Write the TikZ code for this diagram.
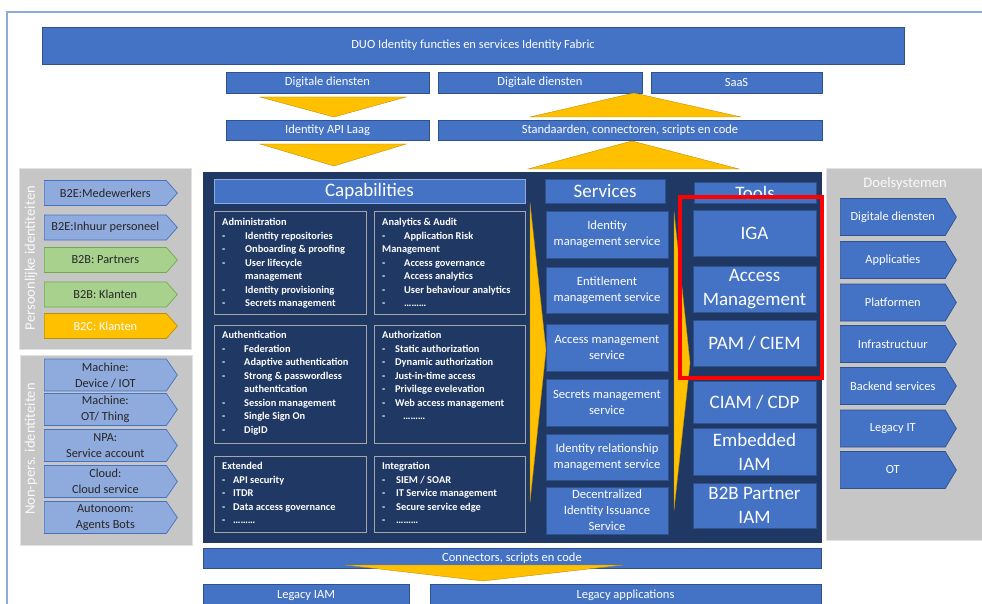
\documentclass[tikz,border=0pt]{standalone}
\usepackage{fontspec}
\setmainfont{Carlito}
\usetikzlibrary{shapes.symbols}
\definecolor{fabric}{HTML}{4472C4}
\definecolor{fabricedge}{HTML}{2F528F}
\definecolor{navy}{HTML}{203864}
\definecolor{lightblue}{HTML}{8FAADC}
\definecolor{softgreen}{HTML}{A9D18E}
\definecolor{darkgreen}{HTML}{70AD47}
\definecolor{amber}{HTML}{FFC000}
\definecolor{amberedge}{HTML}{BF9000}
\definecolor{panelgray}{HTML}{C6C6C6}
\definecolor{paneledge}{HTML}{E2E2E2}
\definecolor{capedge}{HTML}{A6A6A6}
\newcommand{\capitem}[1]{\makebox[#1pt][l]{-}}
\begin{document}
\begin{tikzpicture}[x=1pt,y=-1pt,
	box/.style={anchor=north west,inner sep=0pt,outer sep=0pt,fill=fabric,draw=fabricedge,line width=0.6pt,text=white,align=center,font=\fontsize{12.5}{14}\selectfont},
	bigbox/.style={box,font=\fontsize{19}{24}\selectfont},
	srvbox/.style={box,font=\fontsize{12.6}{16}\selectfont},
	capbox/.style={anchor=north west,inner sep=0pt,fill=navy,draw=capedge,line width=1.1pt},
	captext/.style={anchor=north west,inner sep=0pt,text=white,align=left,font=\bfseries\fontsize{10.4}{13.5}\selectfont},
	panel/.style={anchor=north west,inner sep=0pt,fill=panelgray,draw=paneledge,line width=1pt},
	panellabel/.style={text=white!95!gray,font=\fontsize{14.6}{16}\selectfont},
	idarrow/.style={signal,signal to=east,anchor=west,inner sep=0pt,minimum width=133pt,line width=0.7pt,align=center,text=black!85,font=\fontsize{12.3}{16}\selectfont},
	person/.style={idarrow,fill=lightblue,draw=fabric,minimum height=25pt,signal pointer angle=97},
	partner/.style={idarrow,fill=softgreen,draw=darkgreen,minimum height=25pt,signal pointer angle=97},
	machine/.style={idarrow,fill=lightblue,draw=fabric,minimum height=32pt,signal pointer angle=111},
	target/.style={signal,signal to=east,anchor=west,inner sep=0pt,minimum width=116pt,minimum height=37pt,signal pointer angle=118,fill=fabric,draw=fabricedge,line width=0.7pt,text=white,font=\fontsize{12.4}{14}\selectfont},
	tri/.style={fill=amber,draw=amberedge,line width=0.4pt}]
	\useasboundingbox (0,0) rectangle (982,604);
	% slide frame
	\draw[lightblue,line width=1.5pt] (7,604) -- (7,12) -- (982,12);
	% top layers
	\node[box,minimum width=862pt,minimum height=37pt] (fabric) at (42,27) {DUO Identity functies en services Identity Fabric};
	\node[box,minimum width=203pt,minimum height=21pt] (dig1) at (226,72) {Digitale diensten};
	\node[box,minimum width=204pt,minimum height=21pt] (dig2) at (438,72) {Digitale diensten};
	\node[box,minimum width=171pt,minimum height=21pt] (saas) at (651,72) {SaaS};
	\node[box,minimum width=203pt,minimum height=20pt] (api) at (226,120) {Identity API Laag};
	\node[box,minimum width=384pt,minimum height=20pt] (std) at (438,120) {Standaarden, connectoren, scripts en code};
	% yellow arrows between the layers
	\filldraw[tri] (260,97) -- (406,97) -- (334,117) -- cycle;
	\filldraw[tri] (634,93) -- (741,117) -- (530,117) -- cycle;
	\filldraw[tri] (260,144) -- (406,144) -- (334,166) -- cycle;
	\filldraw[tri] (632,141) -- (739,169) -- (528,169) -- cycle;
	% personal identities
	\node[panel,minimum width=172pt,minimum height=181pt] (perspanel) at (19,168) {};
	\node[panellabel,rotate=90] (perslabel) at (31,258) {Persoonlijke identiteiten};
	\node[person] (b2emed) at (44,193) {B2E:Medewerkers};
	\node[person] (b2einh) at (44,227.5) {B2E:Inhuur personeel};
	\node[partner] (b2bpart) at (44,260) {B2B: Partners};
	\node[partner] (b2bkl) at (44,294.5) {B2B: Klanten};
	\node[idarrow,fill=amber,draw=amberedge,minimum height=25pt,signal pointer angle=97,text=white] (b2ckl) at (44,326) {B2C: Klanten};
	% non-personal identities
	\node[panel,minimum width=172pt,minimum height=190pt] (npspanel) at (20,355) {};
	\node[panellabel,rotate=90] (npslabel) at (31,449) {Non-pers. identiteiten};
	\node[machine] (iot) at (44,375) {Machine:\\Device / IOT};
	\node[machine] (thing) at (44,409.5) {Machine:\\OT/ Thing};
	\node[machine] (npa) at (44,445.5) {NPA:\\Service account};
	\node[machine] (cloud) at (44,481.5) {Cloud:\\Cloud service};
	\node[machine] (agents) at (44,517.5) {Autonoom:\\Agents Bots};
	% the identity fabric
	\node[anchor=north west,inner sep=0pt,fill=navy,minimum width=619pt,minimum height=371pt] (core) at (203,172) {};
	% capabilities
	\node[bigbox,draw=lightblue,minimum width=311pt,minimum height=24pt] (caphead) at (214,179) {Capabilities};
	\node[capbox,minimum width=152pt,minimum height=103pt] (admin) at (214,211) {};
	\node[captext] (admintxt) at ([shift={(8,7)}]admin.north west) {Administration\\
		\capitem{23}Identity repositories\\
		\capitem{23}Onboarding \& proofing\\
		\capitem{23}User lifecycle\\
		\hspace*{23pt}management\\
		\capitem{23}Identity provisioning\\
		\capitem{23}Secrets management};
	\node[capbox,minimum width=151pt,minimum height=103pt] (analytics) at (374,211) {};
	\node[captext] (analyticstxt) at ([shift={(8,7)}]analytics.north west) {Analytics \& Audit\\
		\capitem{22}Application Risk\\
		Management\\
		\capitem{22}Access governance\\
		\capitem{22}Access analytics\\
		\capitem{22}User behaviour analytics\\
		\capitem{22}………};
	\node[capbox,minimum width=152pt,minimum height=118pt] (authn) at (214,325) {};
	\node[captext] (authntxt) at ([shift={(8,6)}]authn.north west) {Authentication\\
		\capitem{22}Federation\\
		\capitem{22}Adaptive authentication\\
		\capitem{22}Strong \& passwordless\\
		\hspace*{22pt}authentication\\
		\capitem{22}Session management\\
		\capitem{22}Single Sign On\\
		\capitem{22}DigID};
	\node[capbox,minimum width=151pt,minimum height=118pt] (authz) at (374,325) {};
	\node[captext] (authztxt) at ([shift={(8,6)}]authz.north west) {Authorization\\
		\capitem{13}Static authorization\\
		\capitem{13}Dynamic authorization\\
		\capitem{13}Just-in-time access\\
		\capitem{13}Privilege evelevation\\
		\capitem{13}Web access management\\
		\capitem{21}………};
	\node[capbox,minimum width=152pt,minimum height=76pt] (extended) at (214,456) {};
	\node[captext] (extendedtxt) at ([shift={(8,6)}]extended.north west) {Extended\\
		\capitem{11}API security\\
		\capitem{11}ITDR\\
		\capitem{11}Data access governance\\
		\capitem{11}………};
	\node[capbox,minimum width=151pt,minimum height=76pt] (integration) at (374,456) {};
	\node[captext] (integrationtxt) at ([shift={(8,6)}]integration.north west) {Integration\\
		\capitem{14}SIEM / SOAR\\
		\capitem{14}IT Service management\\
		\capitem{14}Secure service edge\\
		\capitem{14}………};
	% yellow arrows into services and tools
	\filldraw[tri] (530,203) -- (546,350) -- (530,502) -- cycle;
	\filldraw[tri] (674,212) -- (690,363) -- (674,510) -- cycle;
	% services
	\node[bigbox,minimum width=120pt,minimum height=24pt] (srvhead) at (545,179) {Services};
	\node[srvbox,minimum width=122pt,minimum height=47pt] (idm) at (546,211) {Identity\\management service};
	\node[srvbox,minimum width=122pt,minimum height=46pt] (ent) at (546,267) {Entitlement\\management service};
	\node[srvbox,minimum width=122pt,minimum height=47pt] (acm) at (546,324) {Access management\\service};
	\node[srvbox,minimum width=122pt,minimum height=47pt] (sec) at (546,379) {Secrets management\\service};
	\node[srvbox,minimum width=122pt,minimum height=46pt] (irm) at (546,434) {Identity relationship\\management service};
	\node[srvbox,minimum width=122pt,minimum height=47pt] (dii) at (546,487) {Decentralized\\Identity Issuance\\Service};
	% tools
	\node[bigbox,minimum width=122pt,minimum height=21pt] (toolhead) at (694,182) {Tools};
	\node[bigbox,minimum width=123pt,minimum height=46pt] (iga) at (693,210) {IGA};
	\node[bigbox,minimum width=123pt,minimum height=46pt] (am) at (693,266) {Access\\Management};
	\node[bigbox,minimum width=123pt,minimum height=46pt] (pam) at (693,320) {PAM / CIEM};
	\node[bigbox,minimum width=123pt,minimum height=42pt] (ciam) at (693,381) {CIAM / CDP};
	\node[bigbox,minimum width=123pt,minimum height=47pt] (embedded) at (693,428) {Embedded\\IAM};
	\node[bigbox,minimum width=123pt,minimum height=45pt] (b2biam) at (693,483) {B2B Partner\\IAM};
	% highlight
	\draw[red,line width=4pt] (680,197) rectangle (822,378);
	% target systems
	\node[panel,minimum width=160pt,minimum height=372pt] (doelpanel) at (826,168) {};
	\node[panellabel] (doellabel) at (905,184) {Doelsystemen};
	\node[target] (t1) at (840,217) {Digitale diensten};
	\node[target] (t2) at (840,260) {Applicaties};
	\node[target] (t3) at (840,302.5) {Platformen};
	\node[target] (t4) at (840,344) {Infrastructuur};
	\node[target] (t5) at (840,386) {Backend services};
	\node[target] (t6) at (840,428.5) {Legacy IT};
	\node[target] (t7) at (840,470) {OT};
	% bottom layers
	\node[box,minimum width=618pt,minimum height=20pt] (conn) at (203,548) {Connectors, scripts en code};
	\filldraw[tri] (345,565) -- (623,565) -- (483,581) -- cycle;
	\node[box,minimum width=206pt,minimum height=23pt] (legiam) at (203,584) {Legacy IAM};
	\node[box,minimum width=391pt,minimum height=23pt] (legapp) at (430,584) {Legacy applications};
\end{tikzpicture}
\end{document}
